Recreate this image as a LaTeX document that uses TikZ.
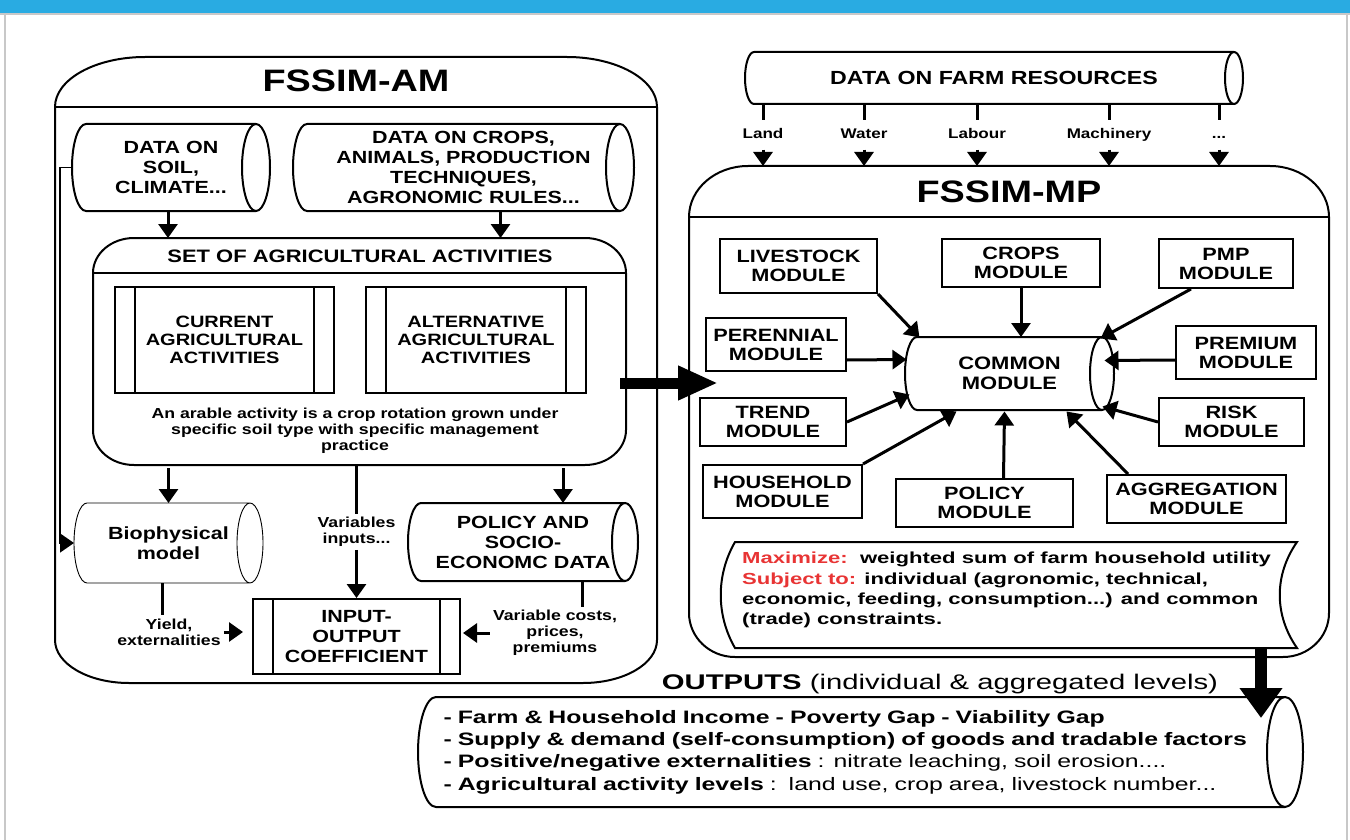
\documentclass[tikz,border=0pt]{standalone}
\usepackage{fontspec}
\setmainfont{Liberation Sans}[FakeStretch=1.22]
\newfontfamily\widefont{Liberation Sans}[FakeStretch=1.38]
\usetikzlibrary{calc,arrows.meta}

\definecolor{barblue}{RGB}{41,171,226}
\definecolor{edgegray}{RGB}{200,200,200}
\definecolor{keyred}{RGB}{232,52,52}

% outline of a data store (drum lying on its side): node, x radius of the ends
\newcommand\datadrum[3][2pt]{%
  \draw[line width=#1] let \p1=(#2.north west), \p2=(#2.south east), \n1={(\y1-\y2)/2} in
    (\x1+#3pt,\y1) -- (\x2-#3pt,\y1)
    (\x2-#3pt,\y2) -- (\x1+#3pt,\y2) arc[start angle=270, end angle=90, x radius=#3pt, y radius=\n1]
    (\x2-#3pt,\y2+\n1) ellipse[x radius=#3pt, y radius=\n1];
}
\newcommand\etcdots{...}

\tikzset{
  frame/.style={inner sep=0pt, outer sep=0pt},
  frameline/.style={line width=2pt},
  heading/.style={font=\bfseries\fontsize{31}{34}\selectfont},
  datastore/.style={inner sep=0pt, outer sep=0pt, align=center, font=\bfseries\fontsize{17.6}{20}\selectfont},
  process/.style={draw, line width=2pt, inner sep=0pt, align=center, font=\bfseries\fontsize{17.6}{20}\selectfont,
    path picture={
      \draw[line width=2pt] ([xshift=20pt]path picture bounding box.north west) -- ([xshift=20pt]path picture bounding box.south west);
      \draw[line width=2pt] ([xshift=-20pt]path picture bounding box.north east) -- ([xshift=-20pt]path picture bounding box.south east);
    }},
  module/.style={draw, line width=2pt, inner sep=0pt, align=center, font=\bfseries\fontsize{17.8}{19}\selectfont},
  tag/.style={inner sep=3pt, align=center, font=\bfseries\fontsize{14.5}{16}\selectfont},
  arr/.style={line width=3pt, -{Triangle[length=14pt,width=19pt]}},
  bigarr/.style={line width=11pt, -{Triangle[length=40pt,width=32pt]}},
}

\begin{document}
\begin{tikzpicture}[x=1pt, y=-1pt]
  \useasboundingbox (0,0) rectangle (1350,840);

  %% page frame
  \fill[barblue] (0,0) rectangle (1350,13);
  \draw[edgegray, line width=1.5pt] (0,14) -- (1350,14);
  \draw[edgegray, line width=2.5pt] (5,14) -- (5,840);
  \draw[edgegray, line width=2.5pt] (1347,14) -- (1347,840);

  %% FSSIM-AM
  \node[frame, minimum width=602, minimum height=626] (am) at (356,370) {};
  \draw[frameline] ($(am.north west)+(0,50)$) arc[start angle=180, end angle=270, x radius=90, y radius=50]
    -- ($(am.north east)+(-90,0)$) arc[start angle=270, end angle=360, x radius=90, y radius=50]
    -- ($(am.south east)+(0,-43)$) arc[start angle=0, end angle=90, x radius=74, y radius=43]
    -- ($(am.south west)+(74,0)$) arc[start angle=90, end angle=180, x radius=74, y radius=43]
    -- cycle;
  \draw[frameline] ($(am.north west)+(0,50)$) -- ($(am.north east)+(0,50)$);
  \node[heading] (amtitle) at (356,81) {FSSIM-AM};

  \node[datastore, minimum width=198, minimum height=87] (soil) at (171,167.5) {DATA ON\\SOIL,\\CLIMATE...};
  \datadrum{soil}{14}
  \node[datastore, minimum width=341, minimum height=87] (cropdata) at (463.5,167.5) {DATA ON CROPS,\\ANIMALS, PRODUCTION\\TECHNIQUES,\\AGRONOMIC RULES...};
  \datadrum{cropdata}{14}

  %% set of activities
  \node[frame, minimum width=533, minimum height=227] (set) at (359.5,351.5) {};
  \draw[frameline] ($(set.north west)+(0,35)$) arc[start angle=180, end angle=270, x radius=41, y radius=35]
    -- ($(set.north east)+(-41,0)$) arc[start angle=270, end angle=360, x radius=41, y radius=35]
    -- ($(set.south east)+(0,-35)$) arc[start angle=0, end angle=90, x radius=41, y radius=35]
    -- ($(set.south west)+(41,0)$) arc[start angle=90, end angle=180, x radius=41, y radius=35]
    -- cycle;
  \draw[frameline] ($(set.north west)+(0,35)$) -- ($(set.north east)+(0,35)$);
  \node[font=\bfseries\fontsize{18}{20}\selectfont] (settitle) at (360,256) {SET OF AGRICULTURAL ACTIVITIES};
  \node[process, minimum width=219, minimum height=106, font=\bfseries\fontsize{16.4}{17.8}\selectfont] (current) at (224.5,340) {CURRENT\\AGRICULTURAL\\ACTIVITIES};
  \node[process, minimum width=220, minimum height=106, font=\bfseries\fontsize{16.4}{17.8}\selectfont] (altern) at (476,340) {ALTERNATIVE\\AGRICULTURAL\\ACTIVITIES};
  \node[tag] (arable) at (355,431) {An arable activity is a crop rotation grown under\\specific soil type with specific management\\practice};

  \node[datastore, minimum width=189, minimum height=80] (bio) at (168.5,543) {Biophysical\\model};
  \datadrum[0.9pt]{bio}{13}
  \node[datastore, minimum width=230, minimum height=78] (poldata) at (523,542) {POLICY AND\\SOCIO-\\ECONOMC DATA};
  \datadrum{poldata}{13}
  \node[process, minimum width=207, minimum height=75] (io) at (356.5,636.5) {INPUT-\\OUTPUT\\COEFFICIENT};
  \node[tag] (varin) at (356.5,532) {Variables\\inputs...};
  \node[tag] (yield) at (169,632) {Yield,\\externalities};
  \node[tag] (costs) at (555,633) {Variable costs,\\prices,\\premiums};

  \draw[arr] ([xshift=-3pt]soil.south) -- ([xshift=-3pt]soil.south |- set.north);
  \draw[arr] ([xshift=37pt]cropdata.south) -- ([xshift=37pt]cropdata.south |- set.north);
  \draw[arr, line width=1.5pt] (soil.west) -- ++(-12,0) |- (bio.west);
  \draw[arr] ([yshift=-3pt]bio.north |- set.south) -- (bio.north);
  \draw[arr] ([xshift=40pt,yshift=-3pt]poldata.north |- set.south) -- ([xshift=40pt]poldata.north);
  \draw[line width=3pt] (io.north |- set.south) -- (varin.north);
  \draw[arr] (varin.south) -- (io.north);
  \draw[line width=3pt] ([xshift=-6pt]bio.south) -- ([xshift=-6pt]bio.south |- yield.north);
  \draw[arr] (yield.east) -- ([xshift=-9pt]yield.east -| io.west);
  \draw[line width=3pt] ([xshift=59pt]poldata.south) -- ([xshift=59pt]poldata.south |- costs.north);
  \draw[arr] (costs.west) -- ([xshift=2pt]costs.west -| io.east);

  %% FSSIM-MP
  \node[datastore, minimum width=498, minimum height=52, font=\bfseries\fontsize{19}{21}\selectfont] (farm) at (994,78) {DATA ON FARM RESOURCES};
  \datadrum{farm}{9}
  \node[frame, minimum width=640, minimum height=491] (mp) at (1009,411.5) {};
  \draw[frameline] ($(mp.north west)+(0,51)$) arc[start angle=180, end angle=270, x radius=59, y radius=51]
    -- ($(mp.north east)+(-59,0)$) arc[start angle=270, end angle=360, x radius=59, y radius=51]
    -- ($(mp.south east)+(0,-44)$) arc[start angle=0, end angle=90, x radius=46, y radius=44]
    -- ($(mp.south west)+(46,0)$) arc[start angle=90, end angle=180, x radius=46, y radius=44]
    -- cycle;
  \draw[frameline] ($(mp.north west)+(0,51)$) -- ($(mp.north east)+(0,51)$);
  \node[heading] (mptitle) at (1009,192) {FSSIM-MP};

  \foreach \res/\xpos/\txt in {land/763/Land, water/864/Water, labour/977/Labour, machinery/1109/Machinery, more/1219/\etcdots} {
    \node[tag, inner ysep=8pt, text height=10pt, text depth=3pt, font=\bfseries\fontsize{14}{16}\selectfont] (\res) at (\xpos,135) {\txt};
    \draw[line width=3pt] (\res.north |- farm.south) -- (\res.north);
    \draw[arr] (\res.south) -- (\res.south |- mp.north);
  }

  \node[module, minimum width=157, minimum height=54] (livestock) at (798.5,266) {LIVESTOCK\\MODULE};
  \node[module, minimum width=158, minimum height=48] (cropsmod) at (1021,263) {CROPS\\MODULE};
  \node[module, minimum width=134, minimum height=49] (pmp) at (1226,263.5) {PMP\\MODULE};
  \node[module, minimum width=140, minimum height=53] (perennial) at (776,344.5) {PERENNIAL\\MODULE};
  \node[module, minimum width=140, minimum height=53] (premium) at (1246,352.5) {PREMIUM\\MODULE};
  \node[module, minimum width=146, minimum height=48] (trend) at (773,422) {TREND\\MODULE};
  \node[module, minimum width=145, minimum height=48] (risk) at (1231.5,422) {RISK\\MODULE};
  \node[module, minimum width=159, minimum height=53] (household) at (782.5,491.5) {HOUSEHOLD\\MODULE};
  \node[module, minimum width=177, minimum height=48] (polmod) at (984.5,503) {POLICY\\MODULE};
  \node[module, minimum width=179, minimum height=48] (aggr) at (1196.5,499) {AGGREGATION\\MODULE};
  \node[datastore, minimum width=209, minimum height=73, font=\bfseries\fontsize{18}{20}\selectfont] (common) at (1009.5,373.5) {COMMON\\MODULE};
  \datadrum{common}{12}

  \draw[arr] (livestock.south east) -- ($(common)+(-90,-36)$);
  \draw[arr] (cropsmod.south) -- (cropsmod.south |- common.north);
  \draw[arr] ($(pmp.south)+(-35,0)$) -- ($(common)+(91,-35)$);
  \draw[arr] ($(perennial.east)+(0,15.5)$) -- ($(common)+(-103,-14)$);
  \draw[arr] ($(premium.west)+(0,7.5)$) -- ($(common)+(95,-13)$);
  \draw[arr] (trend.east) -- ($(common)+(-100,21)$);
  \draw[arr] (risk.west) -- ($(common)+(93,33)$);
  \draw[arr] (household.north east) -- ($(common)+(-53,38)$);
  \draw[arr] ($(polmod.north)+(19,0)$) -- ($(common)+(-5,38)$);
  \draw[arr] ($(aggr.north)+(-68.5,0)$) -- ($(common)+(57,38)$);

  %% objective
  \draw[frameline] (735,542) -- (1297,542) .. controls (1274,575) and (1274,615) .. (1297,648)
    -- (735,648) .. controls (716,615) and (716,575) .. (735,542) -- cycle;
  \node[anchor=north west, inner sep=0pt, align=left, font=\widefont\bfseries\fontsize{16}{20.3}\selectfont] (objective) at (742,552)
    {\textcolor{keyred}{Maximize:}\ \ weighted sum of farm household utility\\
     \textcolor{keyred}{Subject to:} individual (agronomic, technical,\\
     economic, feeding, consumption...) and common\\
     (trade) constraints.};

  %% outputs
  \draw[bigarr] ($(set.east)+(-6,31.5)$) -- ++(98,0);
  \draw[line width=12pt, -{Triangle[length=30pt,width=41pt]}] ($(mp.south east)+(-68,-9)$) -- ++(0,70);
  \node[font=\widefont\fontsize{21.2}{24}\selectfont] (outtitle) at (940,684) {\textbf{OUTPUTS} (individual \& aggregated levels)};
  \node[datastore, minimum width=885, minimum height=110, text width=834, align=left, font=\widefont\bfseries\fontsize{18}{22.3}\selectfont] (outputs) at (860.5,752)
    {- Farm \& Household Income - Poverty Gap - Viability Gap\\
     - Supply \& demand (self-consumption) of goods and tradable factors\\
     - Positive/negative externalities {\mdseries : nitrate leaching, soil erosion....}\\
     - Agricultural activity levels {\mdseries :\ \ land use, crop area, livestock number...}};
  \datadrum{outputs}{18}
\end{tikzpicture}
\end{document}
